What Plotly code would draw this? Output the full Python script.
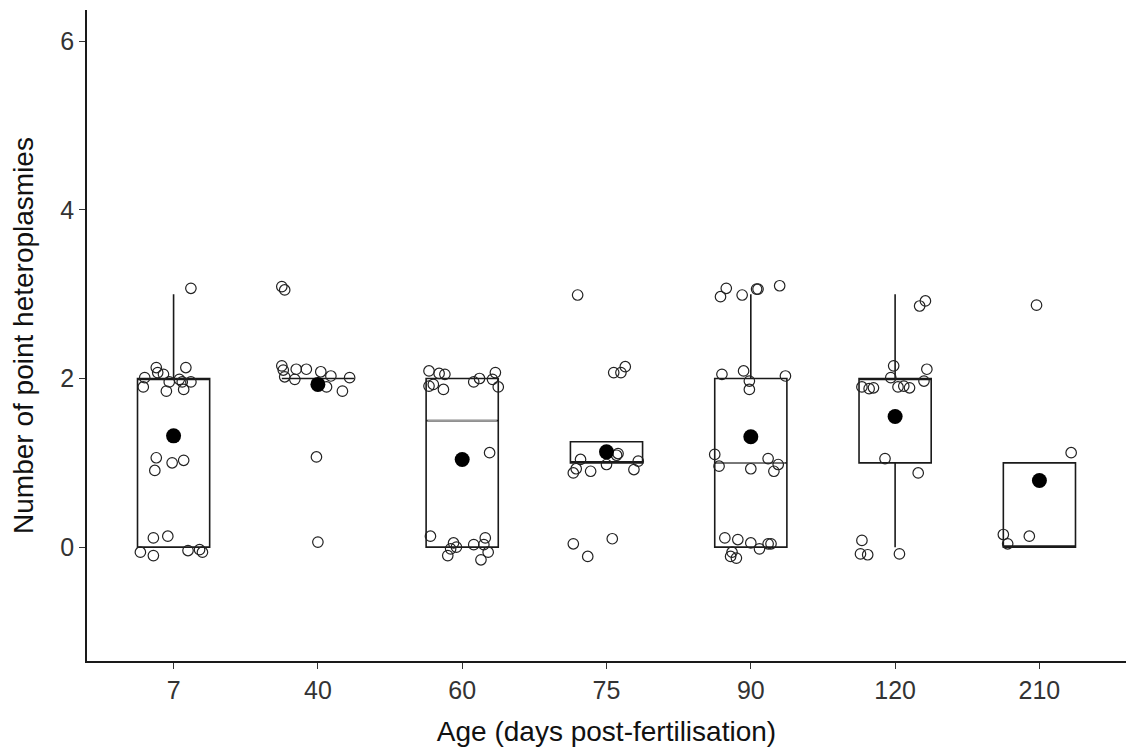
import plotly.graph_objects as go

categories = ["7", "40", "60", "75", "90", "120", "210"]

# box statistics per age group
q1 = [0, 2, 0, 1, 0, 1, 0]
median = [2, 2, 1.5, 1, 1, 2, 0]
q3 = [2, 2, 2, 1.25, 2, 2, 1]
lower_whisker = [0, 2, 0, 1, 0, 0, 0]
upper_whisker = [3, 2, 2, 1.25, 3, 3, 1]
means = [1.32, 1.93, 1.04, 1.13, 1.31, 1.55, 0.79]

# jittered observations: horizontal jitter offset and (jittered) value
jit_7 = [0.12, -0.12, -0.11, -0.07, 0.085, -0.20, -0.21, -0.03, 0.04, 0.06, 0.12, -0.05, 0.07,
         -0.12, -0.13, -0.01, 0.07, -0.14, -0.04, -0.23, -0.14, 0.10, 0.18, 0.20]
val_7 = [3.07, 2.13, 2.07, 2.05, 2.13, 2.01, 1.90, 1.96, 1.99, 1.96, 1.96, 1.85, 1.87,
         1.06, 0.91, 1.00, 1.03, 0.11, 0.13, -0.06, -0.10, -0.04, -0.03, -0.06]
jit_40 = [-0.25, -0.23, -0.25, -0.24, -0.23, -0.15, -0.08, -0.16, 0.02, 0.09, 0.06, 0.22, 0.17, -0.01, 0.0]
val_40 = [3.09, 3.05, 2.15, 2.10, 2.02, 2.11, 2.11, 1.99, 2.08, 2.03, 1.90, 2.01, 1.85, 1.07, 0.06]
jit_60 = [-0.23, -0.16, -0.12, -0.23, -0.20, -0.13, 0.08, 0.12, 0.23, 0.21, 0.25, 0.19,
          -0.22, -0.06, -0.08, -0.10, 0.08, 0.16, 0.15, 0.18, 0.13, -0.04]
val_60 = [2.09, 2.06, 2.05, 1.91, 1.93, 1.87, 1.96, 2.00, 2.07, 1.99, 1.90, 1.12,
          0.13, 0.05, -0.02, -0.10, 0.03, 0.11, 0.03, -0.06, -0.15, 0.00]
jit_75 = [-0.20, 0.05, 0.10, 0.13, -0.18, -0.23, -0.21, -0.11, 0.0, 0.08, 0.07, 0.19, 0.22, -0.23, -0.13, 0.04]
val_75 = [2.99, 2.07, 2.07, 2.14, 1.04, 0.88, 0.93, 0.90, 0.98, 1.11, 1.09, 0.92, 1.02, 0.04, -0.11, 0.10]
jit_90 = [-0.21, -0.17, -0.06, 0.04, 0.05, 0.20, -0.20, -0.05, -0.01, -0.01, 0.24,
          -0.25, -0.22, 0.0, 0.12, 0.19, 0.16, -0.18, -0.09, 0.0, 0.06, 0.12, 0.14, -0.13, -0.14, -0.10]
val_90 = [2.97, 3.07, 2.99, 3.06, 3.06, 3.10, 2.05, 2.09, 1.97, 1.87, 2.03,
          1.10, 0.96, 0.93, 1.05, 0.98, 0.90, 0.11, 0.09, 0.05, -0.02, 0.04, 0.04, -0.06, -0.11, -0.13]
jit_120 = [0.17, 0.21, -0.01, 0.22, -0.03, 0.20, -0.23, -0.18, -0.15, 0.02, 0.06, 0.10,
           -0.07, 0.16, -0.23, -0.24, -0.19, 0.03]
val_120 = [2.86, 2.92, 2.15, 2.11, 2.01, 1.97, 1.90, 1.88, 1.89, 1.90, 1.91, 1.89,
           1.05, 0.88, 0.08, -0.08, -0.09, -0.08]
jit_210 = [-0.02, 0.22, -0.07, -0.25, -0.22]
val_210 = [2.87, 1.12, 0.13, 0.15, 0.04]

jitters = [jit_7, jit_40, jit_60, jit_75, jit_90, jit_120, jit_210]
values = [val_7, val_40, val_60, val_75, val_90, val_120, val_210]

BOX_W = 0.5
fig = go.Figure()

for i, cat in enumerate(categories):
    fig.add_trace(go.Box(
        x=[i], q1=[q1[i]], median=[median[i]], q3=[q3[i]],
        lowerfence=[lower_whisker[i]], upperfence=[upper_whisker[i]],
        width=BOX_W, whiskerwidth=0,
        line=dict(color="#1a1a1a", width=1.6),
        fillcolor="rgba(0,0,0,0)", boxpoints=False, hoverinfo="skip",
        showlegend=False,
    ))
    if q1[i] < median[i] < q3[i]:
        fig.add_trace(go.Scatter(
            x=[i - BOX_W / 2 + 0.01, i + BOX_W / 2 - 0.01], y=[median[i], median[i]],
            mode="lines", line=dict(color="#9a9a9a", width=1.4),
            showlegend=False, hoverinfo="skip",
        ))

for i, cat in enumerate(categories):
    fig.add_trace(go.Scatter(
        x=[i + d for d in jitters[i]], y=values[i], mode="markers",
        marker=dict(size=10.5, color="rgba(255,255,255,0)",
                    line=dict(color="#222222", width=1.2)),
        showlegend=False,
    ))

fig.add_trace(go.Scatter(
    x=list(range(len(categories))), y=means, mode="markers",
    marker=dict(size=15, color="black"), showlegend=False,
))

fig.update_layout(
    width=1126, height=747,
    margin=dict(l=87, r=0, t=10, b=86),
    paper_bgcolor="white", plot_bgcolor="white",
    font=dict(family="Liberation Sans, Arial, sans-serif", color="#222222"),
)
fig.update_xaxes(
    range=[-0.6, 6.6], tickvals=list(range(len(categories))), ticktext=categories,
    showgrid=False, zeroline=False, showline=True, linecolor="#1a1a1a", linewidth=1.5,
    ticks="outside", ticklen=6, tickcolor="#333333", tickwidth=1.2,
    tickfont=dict(size=25, color="#333333"),
    title=dict(text="Age (days post-fertilisation)", font=dict(size=28, color="#111111"), standoff=20),
    automargin=False,
)
fig.update_yaxes(
    range=[-1.35, 6.37], tickvals=[0, 2, 4, 6], ticktext=["0", "2", "4", "6"],
    showgrid=False, zeroline=False, showline=True, linecolor="#1a1a1a", linewidth=1.5,
    ticks="outside", ticklen=6, tickcolor="#333333", tickwidth=1.2,
    tickfont=dict(size=25, color="#333333"),
    title=dict(text="Number of point heteroplasmies", font=dict(size=28, color="#111111"), standoff=19),
    automargin=False,
)

fig.write_html("out.html")
